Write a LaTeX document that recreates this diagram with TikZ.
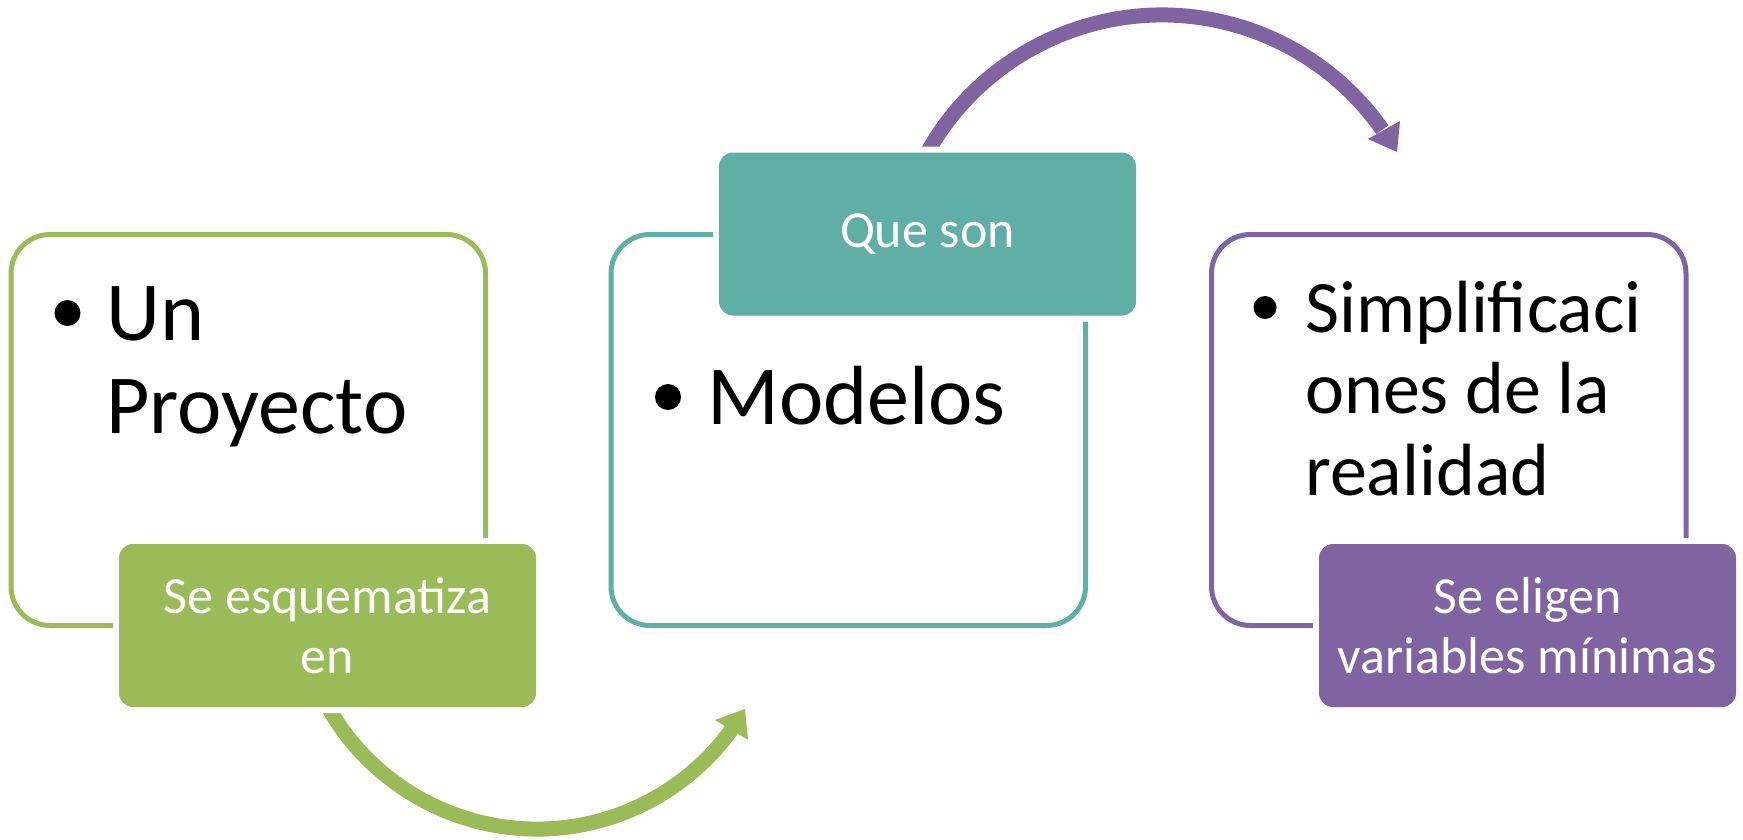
\documentclass[tikz,border=0pt]{standalone}
\usepackage{fontspec}
\setmainfont{Carlito}
\definecolor{cgreen}{HTML}{9BBB59}
\definecolor{cteal}{HTML}{5FAFA6}
\definecolor{cpurple}{HTML}{8064A2}
\begin{document}
\begin{tikzpicture}[x=1pt,y=-1pt,
  outbox/.style={draw=#1, line width=5pt, rounded corners=39pt, minimum width=474.5pt, minimum height=391pt, inner sep=0pt, fill=white},
  fillbox/.style={fill=#1, preaction={draw=white, line width=12pt}, rounded corners=14pt, minimum width=417pt, minimum height=163pt, inner sep=0pt, text=white, align=center, font=\fontsize{52}{60}\selectfont},
  bigtext/.style={anchor=base west, inner sep=0pt, font=\fontsize{84}{93}\selectfont},
  midtext/.style={anchor=base west, inner sep=0pt, font=\fontsize{74}{82}\selectfont},
  bulletdot/.style={circle, fill=black, inner sep=0pt, minimum size=#1},
  arcline/.style={draw=#1, line width=15pt},
  arrowhead/.style={fill=#1}]
\fill[white] (0,0) rectangle (1743,839);
\useasboundingbox (0,0) rectangle (1743,839);
% arcs
\coordinate (ga) at (311.5,671.1);
\draw[arcline=cgreen] (ga) arc[start angle=160, end angle=35.5, radius=240] coordinate (gend);
\fill[arrowhead=cgreen] (745,709) -- (715,720) -- (748,740) -- cycle;
\coordinate (pa) at (909.2,192.0);
\draw[arcline=cpurple] (pa) arc[start angle=200, end angle=325, radius=269] coordinate (pend);
\fill[arrowhead=cpurple] (1397,152) -- (1368,139) -- (1400,121) -- cycle;
% outline boxes
\node[outbox=cgreen] (gbox) at (248.25,430) {};
\node[outbox=cteal] (tbox) at (848.25,430) {};
\node[outbox=cpurple] (pbox) at (1448.75,430) {};
% filled boxes
\node[fillbox=cgreen] (glab) at (327.5,625.5) {Se esquematiza\\en};
\node[fillbox=cteal] (tlab) at (927.5,234) {Que son};
\node[fillbox=cpurple] (plab) at (1527.5,625.5) {Se eligen\\variables mínimas};
% bullets and texts
\node[bulletdot=26pt] (gb) at (67.5,313) {};
\node[bigtext] (g1) at (106,340) {Un};
\node[bigtext] (g2) at (106,433) {Proyecto};
\node[bulletdot=26pt] (tb) at (668,397) {};
\node[bigtext] (t1) at (707,424) {Modelos};
\node[bulletdot=23pt] (pb) at (1265,307.5) {};
\node[midtext] (p1) at (1305,332) {Simplificaci};
\node[midtext] (p2) at (1305,413) {ones de la};
\node[midtext] (p3) at (1305,495) {realidad};
\end{tikzpicture}
\end{document}
